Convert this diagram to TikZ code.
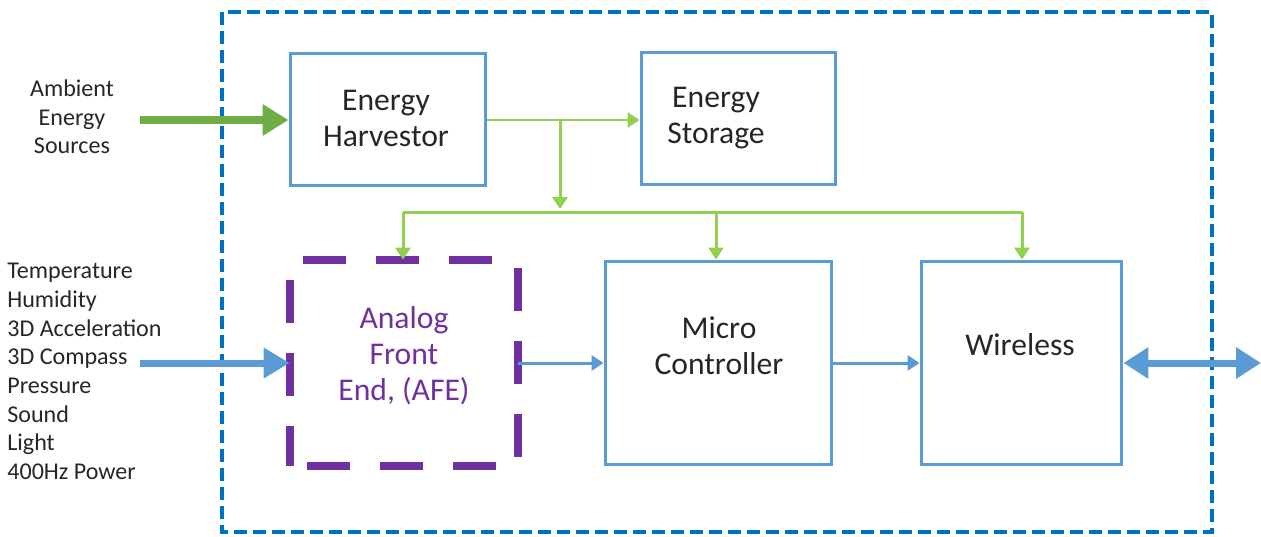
\documentclass[tikz,border=0pt]{standalone}
\usepackage{fontspec}
\setmainfont{Carlito}
\usetikzlibrary{arrows.meta}
\definecolor{boxblue}{HTML}{5B9BD5}
\definecolor{outerblue}{HTML}{0070C0}
\definecolor{dkgreen}{HTML}{70AD47}
\definecolor{ltgreen}{HTML}{92D050}
\definecolor{afepurple}{HTML}{7030A0}
\definecolor{txt}{HTML}{262626}
\tikzset{
  blk/.style={draw=boxblue, line width=0.06cm, inner sep=0pt},
  afeside/.style={draw=afepurple, line width=0.16cm, dash pattern=on 0.86cm off 0.6cm},
  big/.style={text=txt, align=center, font=\fontsize{18}{20.5}\selectfont},
  small/.style={text=txt, font=\fontsize{13.7}{16.3}\selectfont},
  fatgreen/.style={draw=dkgreen, line width=0.16cm, -{Triangle[length=0.52cm,width=0.6cm]}},
  fatblue/.style={draw=boxblue, line width=0.14cm, -{Triangle[length=0.52cm,width=0.58cm]}},
  dblblue/.style={draw=boxblue, line width=0.14cm, {Triangle[length=0.5cm,width=0.6cm]}-{Triangle[length=0.5cm,width=0.6cm]}},
  thingreen/.style={draw=ltgreen, line width=0.06cm, -{Triangle[length=0.24cm,width=0.3cm]}},
  thinline/.style={draw=ltgreen, line width=0.06cm},
  thinblue/.style={draw=boxblue, line width=0.06cm, -{Triangle[length=0.24cm,width=0.3cm]}},
}
\begin{document}
\begin{tikzpicture}[x=0.02cm,y=-0.02cm]
\useasboundingbox (0,0) rectangle (1261,537);
% outer frame
\draw[draw=outerblue, line width=0.08cm, dash pattern=on 0.26cm off 0.12cm] (222,12) rectangle (1212,532);
% boxes
\node[blk, minimum width=3.92cm, minimum height=2.66cm] (harv) at (388,119.5) {};
\node[blk, minimum width=3.9cm, minimum height=2.66cm] (stor) at (738.5,118.5) {};
\node[inner sep=0pt, minimum width=4.56cm, minimum height=4.12cm] (afe) at (404,363) {};
\draw[afeside, dash phase=1.2cm] (afe.north west) -- (afe.north east);
\draw[afeside, dash phase=1.12cm] (afe.south west) -- (afe.south east);
\draw[afeside, dash phase=1.06cm] (afe.north west) -- (afe.south west);
\draw[afeside, dash phase=1.3cm] (afe.north east) -- (afe.south east);
\node[blk, minimum width=4.54cm, minimum height=4.08cm] (mc) at (718.5,363) {};
\node[blk, minimum width=4.02cm, minimum height=4.08cm] (wl) at (1021.5,363) {};
% texts
\node[big] (harvT) at (386,118) {Energy\\Harvestor};
\node[big] (storT) at (716,118) {Energy\\Storage};
\node[big, text=afepurple] (afeT) at (404,356) {Analog\\Front\\End, (AFE)};
\node[big] (mcT) at (719,345.5) {Micro\\Controller};
\node[big] (wlT) at (1020,345) {Wireless};
\node[small, align=center] (ambT) at (72,117) {Ambient\\Energy\\Sources};
\node[small, align=left, anchor=west, inner sep=0pt] (sensT) at (7,371.5) {Temperature\\Humidity\\3D Acceleration\\3D Compass\\Pressure\\Sound\\Light\\400Hz Power};
% coordinates
\coordinate (ambS) at (140,120);
\coordinate (sensS) at (140,363);
\coordinate (br) at (560,120);
\coordinate (brEnd) at (560,209);
\coordinate (busL) at (403,212);
\coordinate (busM) at (716,212);
\coordinate (busR) at (1022,212);
\coordinate (wlOut) at (1261,363);
% connectors
\draw[fatgreen] (ambS) -- (harv.west |- ambS);
\draw[thingreen] (harv.east |- br) -- (stor.west |- br);
\draw[thingreen] (br) -- (brEnd);
\draw[thinline] (busL) -- (busR);
\draw[thingreen] (busL) -- (busL |- afe.north);
\draw[thingreen] (busM) -- (busM |- mc.north);
\draw[thingreen] (busR) -- (busR |- wl.north);
\draw[fatblue] (sensS) -- (afe.west);
\draw[thinblue] (afe.east) -- (mc.west);
\draw[thinblue] (mc.east) -- (wl.west);
\draw[dblblue] (wl.east) -- (wlOut);
\end{tikzpicture}
\end{document}
